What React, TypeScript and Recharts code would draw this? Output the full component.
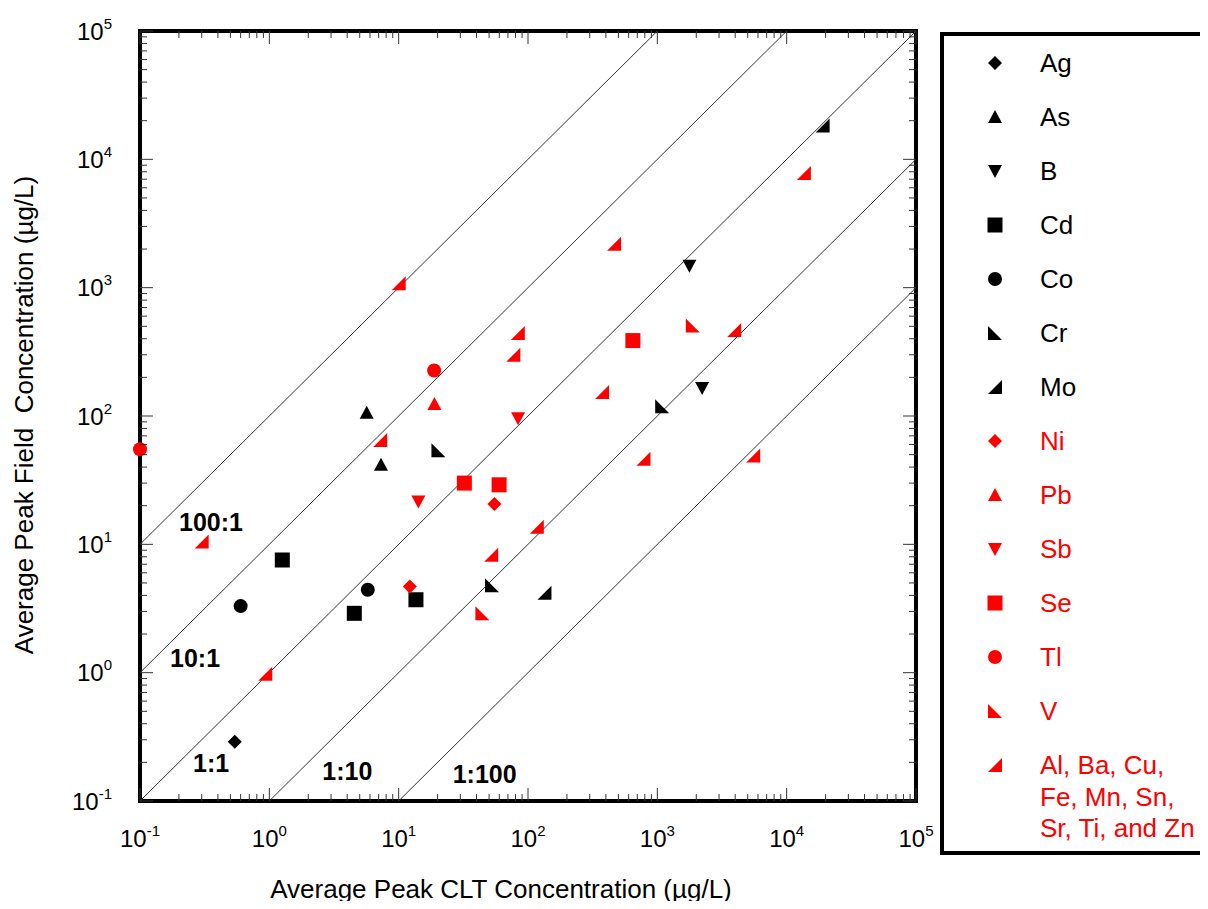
import React from 'react';
import { ScatterChart, Scatter, XAxis, YAxis, ReferenceLine, ReferenceArea } from 'recharts';

const FONT = '"Liberation Sans", Arial, Helvetica, sans-serif';
const RED = '#ff0000';
const BLACK = '#000000';
const TICK = '#333333';

const CHART_W = 1200;
const CHART_H = 900;
const PLOT_W = 776;
const PLOT_H = 770;

// average peak CLT concentration (x) vs average peak field concentration (y), µg/L
const agData = [{ x: 0.54, y: 0.29 }];
const asData = [{ x: 5.66, y: 106 }, { x: 7.3, y: 41.7 }];
const bData = [{ x: 1770, y: 1480 }, { x: 2220, y: 165 }];
const cdData = [{ x: 1.26, y: 7.55 }, { x: 4.54, y: 2.9 }, { x: 13.6, y: 3.7 }];
const coData = [{ x: 0.6, y: 3.3 }, { x: 5.77, y: 4.43 }];
const crData = [{ x: 20.3, y: 54 }, { x: 52.7, y: 4.8 }, { x: 1090, y: 119 }];
const moData = [{ x: 134, y: 4.2 }, { x: 18970, y: 18360 }];
const niData = [{ x: 12.2, y: 4.7 }, { x: 55, y: 20.6 }];
const pbData = [{ x: 18.9, y: 124 }];
const sbData = [{ x: 14.2, y: 21.6 }, { x: 83.8, y: 96 }];
const seData = [{ x: 32.2, y: 30 }, { x: 59.8, y: 29.1 }, { x: 647, y: 387 }];
const tlData = [{ x: 0.1, y: 55 }, { x: 18.8, y: 226 }];
const vData = [{ x: 44.4, y: 2.9 }, { x: 1880, y: 507 }];
const otherData = [
  { x: 0.3, y: 10.5 }, { x: 0.93, y: 0.98 }, { x: 7.2, y: 64.9 }, { x: 10, y: 1084 },
  { x: 51.9, y: 8.3 }, { x: 77, y: 300 }, { x: 83.4, y: 444 }, { x: 117, y: 13.7 },
  { x: 374, y: 154 }, { x: 463, y: 2202 }, { x: 781, y: 46.4 }, { x: 3930, y: 467 },
  { x: 5510, y: 49.2 }, { x: 13580, y: 7830 },
];

const majorTicks = [0.1, 1, 10, 100, 1000, 10000, 100000];
const tickExponents = ['-1', '0', '1', '2', '3', '4', '5'];
const minorTicks: number[] = [];
majorTicks.slice(0, -1).forEach((d) => {
  for (let m = 2; m <= 9; m++) minorTicks.push(d * m);
});
const allTicks = [...majorTicks, ...minorTicks].sort((a, b) => a - b);

// field:CLT ratio lines
const ratios = [100, 10, 1, 0.1, 0.01];
const ratioLabels = ['100:1', '10:1', '1:1', '1:10', '1:100'];
const ratioLabelOffsets = [[39, -13], [30, -6], [53, -29], [53, -21], [54, -18]];

type Kind = 'diamond' | 'up' | 'down' | 'square' | 'circle' | 'cornerLeft' | 'cornerRight';

const series: { name: string[]; data: { x: number; y: number }[]; kind: Kind; color: string }[] = [
  { name: ['Ag'], data: agData, kind: 'diamond', color: BLACK },
  { name: ['As'], data: asData, kind: 'up', color: BLACK },
  { name: ['B'], data: bData, kind: 'down', color: BLACK },
  { name: ['Cd'], data: cdData, kind: 'square', color: BLACK },
  { name: ['Co'], data: coData, kind: 'circle', color: BLACK },
  { name: ['Cr'], data: crData, kind: 'cornerLeft', color: BLACK },
  { name: ['Mo'], data: moData, kind: 'cornerRight', color: BLACK },
  { name: ['Ni'], data: niData, kind: 'diamond', color: RED },
  { name: ['Pb'], data: pbData, kind: 'up', color: RED },
  { name: ['Sb'], data: sbData, kind: 'down', color: RED },
  { name: ['Se'], data: seData, kind: 'square', color: RED },
  { name: ['Tl'], data: tlData, kind: 'circle', color: RED },
  { name: ['V'], data: vData, kind: 'cornerLeft', color: RED },
  { name: ['Al, Ba, Cu,', 'Fe, Mn, Sn,', 'Sr, Ti, and Zn'], data: otherData, kind: 'cornerRight', color: RED },
];

const drawMarker = (kind: Kind, cx: number, cy: number, fill: string) => {
  const h = 7;
  const pts = (p: number[][]) => p.map(([a, b]) => `${cx + a},${cy + b}`).join(' ');
  switch (kind) {
    case 'diamond':
      return <polygon points={pts([[0, -h], [h, 0], [0, h], [-h, 0]])} fill={fill} />;
    case 'up':
      return <polygon points={pts([[-h, 6], [h, 6], [0, -7]])} fill={fill} />;
    case 'down':
      return <polygon points={pts([[-h, -6], [h, -6], [0, 7]])} fill={fill} />;
    case 'square':
      return <rect x={cx - 7.5} y={cy - 7.5} width={15} height={15} fill={fill} />;
    case 'circle':
      return <circle cx={cx} cy={cy} r={7} fill={fill} />;
    case 'cornerLeft':
      return <polygon points={pts([[-h, -h], [-h, h], [h, h]])} fill={fill} />;
    case 'cornerRight':
      return <polygon points={pts([[h, -h], [h, h], [-h, h]])} fill={fill} />;
  }
  return null;
};

const XTick = (props: any) => {
  const { x, y, payload } = props;
  const idx = majorTicks.indexOf(payload.value);
  const len = idx >= 0 ? 13 : 7;
  return (
    <g>
      <line x1={x} y1={y} x2={x} y2={y - len} stroke={TICK} />
      <line x1={x} y1={y - PLOT_H} x2={x} y2={y - PLOT_H + len} stroke={TICK} />
      {idx >= 0 && (
        <text x={x} y={y + 46} textAnchor="middle" fontSize={24} fontFamily={FONT} fill={BLACK}>
          10<tspan dy={-11} fontSize={15}>{tickExponents[idx]}</tspan>
        </text>
      )}
    </g>
  );
};

const YTick = (props: any) => {
  const { x, y, payload } = props;
  const idx = majorTicks.indexOf(payload.value);
  const len = idx >= 0 ? 13 : 7;
  return (
    <g>
      <line x1={x} y1={y} x2={x + len} y2={y} stroke={TICK} />
      <line x1={x + PLOT_W} y1={y} x2={x + PLOT_W - len} y2={y} stroke={TICK} />
      {idx >= 0 && (
        <text x={x - 28} y={y + 8.5} textAnchor="end" fontSize={24} fontFamily={FONT} fill={BLACK}>
          10<tspan dy={-11} fontSize={15}>{tickExponents[idx]}</tspan>
        </text>
      )}
    </g>
  );
};

const XTitle = (props: any) => {
  const vb = props.viewBox;
  return (
    <text x={vb.x + 361} y={vb.y + 97} textAnchor="middle" fontSize={26} fontFamily={FONT} fill={BLACK}>
      Average Peak CLT Concentration (µg/L)
    </text>
  );
};

const YTitle = (props: any) => {
  const vb = props.viewBox;
  const cx = vb.x - 7;
  const cy = vb.y + 384;
  return (
    <text
      x={cx}
      y={cy}
      transform={`rotate(-90, ${cx}, ${cy})`}
      textAnchor="middle"
      fontSize={26}
      fontFamily={FONT}
      fill={BLACK}
    >
      {'Average Peak Field\u00a0 Concentration (µg/L)'}
    </text>
  );
};

const ratioLabel = (i: number) => (props: any) => {
  const vb = props.viewBox;
  const [dx, dy] = ratioLabelOffsets[i];
  return (
    <text x={vb.x + dx} y={vb.y + vb.height + dy} fontSize={25} fontWeight="bold" fontFamily={FONT} fill={BLACK}>
      {ratioLabels[i]}
    </text>
  );
};

const LegendBox = () => {
  const rowH = 54;
  return (
    <svg width={268} height={832} style={{ display: 'block' }}>
      <rect x={2} y={2} width={400} height={819} fill="none" stroke={BLACK} strokeWidth={4} />
      {series.map((s, i) => (
        <g key={s.name[0]}>
          {drawMarker(s.kind, 55, 31 + i * rowH, s.color)}
          <text x={100} y={40 + i * rowH} fontSize={26} fontFamily={FONT} fill={s.color}>
            {s.name.map((line, j) => (
              <tspan key={line} x={100} dy={j === 0 ? 0 : 31.5}>
                {line}
              </tspan>
            ))}
          </text>
        </g>
      ))}
    </svg>
  );
};

export default function App() {
  return (
    <div style={{ position: 'relative', width: CHART_W, height: CHART_H, marginBottom: -7, fontFamily: FONT }}>
      <ScatterChart width={CHART_W} height={CHART_H} margin={{ top: 23, right: 292, bottom: 47, left: 32 }}>
        <XAxis
          type="number"
          dataKey="x"
          scale="log"
          domain={[0.1, 100000]}
          ticks={allTicks}
          interval={0}
          tickSize={0}
          tickMargin={0}
          axisLine={false}
          tickLine={false}
          height={60}
          tick={<XTick />}
          label={XTitle}
        />
        <YAxis
          type="number"
          dataKey="y"
          scale="log"
          domain={[0.1, 100000]}
          ticks={allTicks}
          interval={0}
          tickSize={0}
          tickMargin={0}
          axisLine={false}
          tickLine={false}
          width={100}
          tick={<YTick />}
          label={YTitle}
        />
        <ReferenceArea
          x1={0.1}
          x2={100000}
          y1={0.1}
          y2={100000}
          fill="none"
          stroke={BLACK}
          strokeWidth={4}
          ifOverflow="visible"
        />
        {ratios.map((k, i) => {
          const xs = Math.max(0.1, 0.1 / k);
          const xe = Math.min(100000, 100000 / k);
          return (
            <ReferenceLine
              key={ratioLabels[i]}
              segment={[{ x: xs, y: xs * k }, { x: xe, y: xe * k }]}
              stroke={TICK}
              strokeWidth={1}
              ifOverflow="visible"
              label={ratioLabel(i)}
            />
          );
        })}
        {series.map((s) => (
          <Scatter
            key={s.name[0]}
            name={s.name.join(' ')}
            data={s.data}
            isAnimationActive={false}
            shape={(p: any) => drawMarker(s.kind, p.cx, p.cy, s.color)}
          />
        ))}
      </ScatterChart>
      <div style={{ position: 'absolute', left: 932, top: 24 }}>
        <LegendBox />
      </div>
    </div>
  );
}
